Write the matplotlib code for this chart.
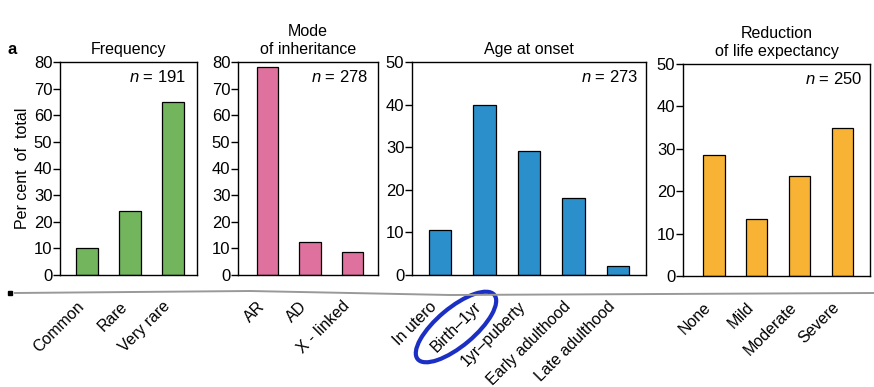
import matplotlib
matplotlib.use("Agg")
import matplotlib.pyplot as plt
from matplotlib.patches import Ellipse
from matplotlib.lines import Line2D
import numpy as np

plt.rcParams['font.family'] = ['Liberation Sans', 'DejaVu Sans']
plt.rcParams['mathtext.fontset'] = 'custom'
plt.rcParams['mathtext.it'] = 'Liberation Sans:italic'
plt.rcParams['mathtext.rm'] = 'Liberation Sans'

# dados
freq_cats = ["Common", "Rare", "Very rare"]
freq_vals = [10, 24, 65]

mode_cats = ["AR", "AD", "X - linked"]
mode_vals = [78, 12.5, 8.5]

onset_cats = ["In utero", "Birth\u20131yr", "1yr\u2013puberty", "Early adulthood", "Late adulthood"]
onset_vals = [10.5, 40, 29, 18, 2]

life_cats = ["None", "Mild", "Moderate", "Severe"]
life_vals = [28.5, 13.5, 23.5, 35]

titulos = ["Frequency", "Mode\nof inheritance", "Age at onset", "Reduction\nof life expectancy"]
n_vals = [191, 278, 273, 250]
ymax = [80, 80, 50, 50]
cores = ["#72b55c", "#de719d", "#2b8fcc", "#f8b334"]

W, H = 874, 387
fig = plt.figure(figsize=(W / 100, H / 100), dpi=100)

# posicoes dos paineis em pixels: (esquerda, direita, topo, base)
caixas = [(60, 197, 62, 275), (238, 378, 62, 275), (412, 646, 62, 275), (683, 870, 64, 276)]
xlims = [(-0.63, 2.56), (-0.69, 2.59), (-0.63, 4.63), (-0.72, 3.64)]
n_x = [0.92, 0.93, 0.965, 0.957]

dados = [(freq_cats, freq_vals), (mode_cats, mode_vals), (onset_cats, onset_vals), (life_cats, life_vals)]

for i, (cats, vals) in enumerate(dados):
    l, r, t, b = caixas[i]
    ax = fig.add_axes([l / W, 1 - b / H, (r - l) / W, (b - t) / H])
    x = np.arange(len(cats))
    ax.bar(x, vals, width=0.5, color=cores[i], edgecolor='black', linewidth=0.9)
    ax.set_xlim(*xlims[i])
    ax.set_ylim(0, ymax[i])
    ax.set_yticks(np.arange(0, ymax[i] + 1, 10))
    ax.set_xticks(x)
    ax.set_xticklabels(cats, rotation=45, ha='right', va='top', fontsize=11.5)
    ax.tick_params(axis='x', length=0, pad=17)
    ax.tick_params(axis='y', length=5, width=1, pad=0.5, labelsize=12)
    for s in ax.spines.values():
        s.set_linewidth(1)
    ax.set_title(titulos[i], fontsize=11.5, pad=6, linespacing=1.25)
    ax.text(n_x[i], 0.965, r"$n$ = %d" % n_vals[i], transform=ax.transAxes,
            ha='right', va='top', fontsize=12)
    if i == 0:
        ax.set_ylabel("Per cent  of  total", fontsize=11.5, labelpad=3)

fig.text(8 / W, 1 - 50 / H, "a", fontsize=12, fontweight='bold', va='center')

# linha cinza do scan e circulo azul a caneta
fig.add_artist(Line2D([15 / W, 250 / W, 450 / W, 1.0],
                      [1 - 293 / H, 1 - 291 / H, 1 - 295 / H, 1 - 293 / H],
                      transform=fig.transFigure, color='#999999', linewidth=1.4))
fig.add_artist(Line2D([10 / W], [1 - 293 / H], transform=fig.transFigure,
                      marker='s', markersize=2.5, color='black', linestyle='none'))
fig.add_artist(Ellipse((4.56, (H - 327) / 100), 1.0, 0.38, angle=40,
                       transform=fig.dpi_scale_trans, fill=False,
                       edgecolor='#1c2fc4', linewidth=3))

fig.savefig("out.png", dpi=100)
